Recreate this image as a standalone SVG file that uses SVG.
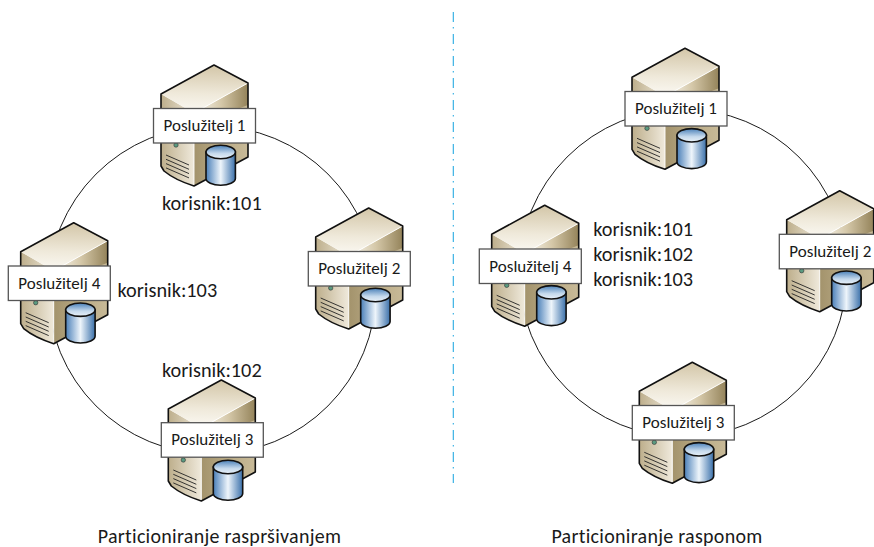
<svg xmlns="http://www.w3.org/2000/svg" xmlns:xlink="http://www.w3.org/1999/xlink" width="874" height="547" viewBox="0 0 874 547">
<style>
text{font-family:"Carlito","Lato","Liberation Sans",sans-serif;fill:#1a1a1a}
.n{font-size:17px;text-anchor:middle}
.k{font-size:20.3px}
.c{font-size:20px;letter-spacing:.28px;text-anchor:middle}
.ring{fill:none;stroke:#1a1a1a;stroke-width:1}
.lb{fill:#fff;stroke:#555;stroke-width:1.3}
</style>
<defs>
<linearGradient id="top" x1="0.5" y1="0" x2="0.45" y2="1"><stop offset="0" stop-color="#d3c6a8"/><stop offset="0.6" stop-color="#efe9da"/><stop offset="1" stop-color="#fbf9f3"/></linearGradient>
<linearGradient id="right" x1="0" y1="0" x2="1" y2="0"><stop offset="0" stop-color="#fbf9f3"/><stop offset="0.5" stop-color="#d5c8a9"/><stop offset="1" stop-color="#94835a"/></linearGradient>
<linearGradient id="rightlow" x1="0" y1="0" x2="1" y2="0"><stop offset="0" stop-color="#a3936c"/><stop offset="0.5" stop-color="#b9aa85"/><stop offset="1" stop-color="#c8ba98"/></linearGradient>
<linearGradient id="left" x1="0" y1="0" x2="1" y2="0"><stop offset="0" stop-color="#bdae8b"/><stop offset="1" stop-color="#efe9db"/></linearGradient>
<linearGradient id="cyl" x1="0" y1="0" x2="1" y2="0"><stop offset="0" stop-color="#4a7fb8"/><stop offset="0.5" stop-color="#eef5fb"/><stop offset="1" stop-color="#3a70aa"/></linearGradient>
<linearGradient id="cyt" x1="0" y1="0" x2="0" y2="1"><stop offset="0" stop-color="#4a80b8"/><stop offset="0.6" stop-color="#c5d9ec"/><stop offset="1" stop-color="#e9f1f8"/></linearGradient>
<g id="srv">
<path fill="url(#left)" d="M0 29 33 48V121Q14 115 3 106L0 101Z"/>
<path fill="url(#right)" d="M33 48 87 18V60L33 80Z"/>
<path fill="url(#rightlow)" d="M33 60 87 40V92L33 121Z"/>
<path fill="url(#top)" d="M0 29 53 0 87 18 33 48Z"/>
<path d="M33 48V121M33 48 87 18" stroke="#fff" stroke-width=".9" fill="none"/>
<path d="M0 29 53 0 87 18V92L33 121Q14 115 3 106L0 101Z" fill="none" stroke="#111" stroke-width="1.6" stroke-linejoin="round"/>
<circle cx="15" cy="80" r="2.2" fill="#5a9a80" stroke="#333" stroke-width=".6"/>
<path d="M5 90 28 100M5 94.300 28 104.300M5 98.600 28 108.600M5 102.900 28 112.900" stroke="#222" stroke-width=".9" fill="none"/>
<path d="M45 87V113.600A14.700 6.700 0 0 0 74.400 113.600V87Z" fill="url(#cyl)" stroke="#111" stroke-width="1.6"/>
<ellipse cx="59.700" cy="87" rx="14.700" ry="6.700" fill="url(#cyt)" stroke="#111" stroke-width="1.6"/>
</g>
<rect id="lbl" class="lb" width="102" height="34.500"/>
</defs>
<g id="connectors">
<circle class="ring" cx="212" cy="290" r="164"/>
<circle class="ring" cx="683" cy="273" r="164"/>
<path d="M453.300 12V483" stroke="#29abe2" stroke-width="1.1" fill="none" stroke-dasharray="10 5 1.500 5.500"/>
</g>
<g id="h1"><use xlink:href="#srv" x="161" y="65"/><use xlink:href="#lbl" x="153.500" y="108.500"/><text class="n" x="204.500" y="131">Poslužitelj 1</text></g>
<g id="h2"><use xlink:href="#srv" x="315.700" y="208"/><use xlink:href="#lbl" x="308.300" y="251.500"/><text class="n" x="359.300" y="274">Poslužitelj 2</text></g>
<g id="h3"><use xlink:href="#srv" x="168.300" y="380"/><use xlink:href="#lbl" x="161.300" y="422.700"/><text class="n" x="212.300" y="445">Poslužitelj 3</text></g>
<g id="h4"><use xlink:href="#srv" x="20.700" y="222.700"/><use xlink:href="#lbl" x="8.300" y="266"/><text class="n" x="59.300" y="288.500">Poslužitelj 4</text></g>
<g id="r1"><use xlink:href="#srv" x="632" y="48.300"/><use xlink:href="#lbl" x="625" y="91.500"/><text class="n" x="676" y="114">Poslužitelj 1</text></g>
<g id="r2"><use xlink:href="#srv" x="786.700" y="190.700"/><use xlink:href="#lbl" x="779.300" y="234.300"/><text class="n" x="830.300" y="257">Poslužitelj 2</text></g>
<g id="r3"><use xlink:href="#srv" x="639.300" y="362.300"/><use xlink:href="#lbl" x="632.300" y="405.500"/><text class="n" x="683.300" y="428">Poslužitelj 3</text></g>
<g id="r4"><use xlink:href="#srv" x="491.700" y="205.300"/><use xlink:href="#lbl" x="479.300" y="249"/><text class="n" x="530.300" y="271.500">Poslužitelj 4</text></g>
<g id="labels">
<text class="k" x="162" y="210">korisnik:101</text>
<text class="k" x="117.500" y="296.500">korisnik:103</text>
<text class="k" x="162" y="377">korisnik:102</text>
<text class="k" x="593.300" y="236">korisnik:101</text>
<text class="k" x="593.300" y="261">korisnik:102</text>
<text class="k" x="593.300" y="285.500">korisnik:103</text>
<text class="c" x="219.500" y="543">Particioniranje raspršivanjem</text>
<text class="c" x="657" y="543">Particioniranje rasponom</text>
</g>
</svg>
